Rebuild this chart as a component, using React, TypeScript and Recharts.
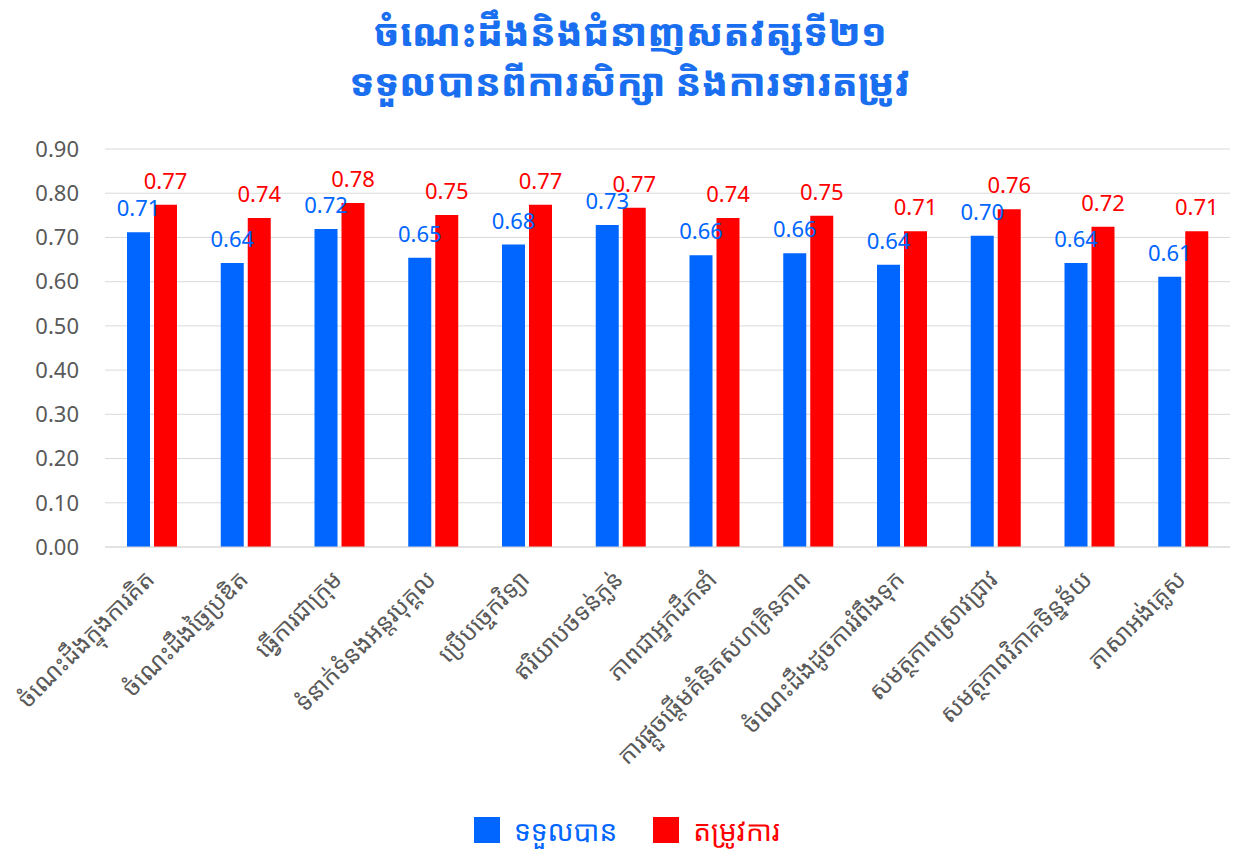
import React from "react";
import {
  Bar,
  BarChart,
  CartesianGrid,
  LabelList,
  Legend,
  XAxis,
  YAxis,
} from "recharts";

const skills = [
  "ចំណេះដឹងក្នុងការគិត",
  "ចំណេះដឹងច្នៃប្រឌិត",
  "ធ្វើការជាក្រុម",
  "ទំនាក់ទំនងអន្តរបុគ្គល",
  "ប្រើបច្ចេកវិទ្យា",
  "ឥរិយាបថទន់ភ្លន់",
  "ភាពជាអ្នកដឹកនាំ",
  "ការផ្តួចផ្តើមគំនិតសហគ្រិនភាព",
  "ចំណេះដឹងដូចការរំពឹងទុក",
  "សមត្ថភាពស្រាវជ្រាវ",
  "សមត្ថភាពវិភាគទិន្នន័យ",
  "ភាសាអង់គ្លេស",
];

const obtained = [0.712, 0.642, 0.719, 0.654, 0.684, 0.728, 0.66, 0.664, 0.638, 0.704, 0.642, 0.611];
const required = [0.774, 0.744, 0.778, 0.751, 0.774, 0.767, 0.744, 0.749, 0.714, 0.764, 0.724, 0.714];

const yTicks = [0, 0.1, 0.2, 0.3, 0.4, 0.5, 0.6, 0.7, 0.8, 0.9];

const titleLines = ["ចំណេះដឹងនិងជំនាញសតវត្សទី២១", "ទទួលបានពីការសិក្សា និងការទារតម្រូវ"];
const seriesNames = ["ទទួលបាន", "តម្រូវការ"];

const BLUE = "#0066ff";
const RED = "#ff0000";
const FONT = "'Noto Sans Khmer', 'Khmer OS', 'Noto Sans', sans-serif";

const data = skills.map((s, i) => ({
  skill: s,
  obtained: obtained[i],
  required: required[i],
}));

const fmt = (v: any) => Number(v).toFixed(2);

const AngledTick = (props: any) => {
  const { x, y, payload } = props;
  return (
    <g transform={`translate(${x + 4},${y + 26})`}>
      <text
        textAnchor="end"
        transform="rotate(-45)"
        fill="#595959"
        fontSize={24}
        fontFamily={FONT}
      >
        {payload.value}
      </text>
    </g>
  );
};

const LegendBox = () => (
  <div
    style={{
      display: "flex",
      justifyContent: "center",
      alignItems: "center",
      gap: 36,
      fontFamily: FONT,
      fontSize: 28,
      paddingLeft: 24,
    }}
  >
    {[BLUE, RED].map((c, i) => (
      <div key={i} style={{ display: "flex", alignItems: "center", gap: 14 }}>
        <span style={{ width: 26, height: 26, background: c, display: "inline-block" }} />
        <span style={{ color: c }}>{seriesNames[i]}</span>
      </div>
    ))}
  </div>
);

export default function App() {
  return (
    <div
      style={{
        position: "relative",
        width: 1243,
        height: 849,
        background: "#fff",
        overflow: "hidden",
      }}
    >
      <style>{"body{margin:0}"}</style>
      <div
        style={{
          position: "absolute",
          top: 6,
          left: 0,
          width: 1260,
          textAlign: "center",
          color: "#1a6ff0",
          fontWeight: 800,
          fontSize: 38,
          lineHeight: "50px",
          fontFamily: FONT,
        }}
      >
        {titleLines.map((t, i) => (
          <div key={i}>{t}</div>
        ))}
      </div>
      <div style={{ position: "absolute", top: 110, left: 0 }}>
        <BarChart
          width={1243}
          height={739}
          data={data}
          margin={{ top: 39, right: 13, bottom: 0, left: 0 }}
          barSize={23}
          barGap={4}
        >
          <CartesianGrid vertical={false} stroke="#d9d9d9" />
          <XAxis
            dataKey="skill"
            interval={0}
            height={264}
            tick={<AngledTick />}
            tickLine={false}
            axisLine={{ stroke: "#d9d9d9" }}
          />
          <YAxis
            domain={[0, 0.9]}
            ticks={yTicks}
            width={105}
            tickFormatter={fmt}
            tickLine={false}
            axisLine={false}
            tickMargin={20}
            tick={{ fill: "#595959", fontSize: 22, fontFamily: "'Noto Sans', sans-serif" }}
          />
          <Legend verticalAlign="bottom" height={38} content={<LegendBox />} />
          <Bar dataKey="obtained" name={seriesNames[0]} fill={BLUE} isAnimationActive={false}>
            <LabelList
              dataKey="obtained"
              position="top"
              offset={16}
              formatter={fmt}
              fill={BLUE}
              fontSize={22}
              fontFamily="'Noto Sans', sans-serif"
            />
          </Bar>
          <Bar dataKey="required" name={seriesNames[1]} fill={RED} isAnimationActive={false}>
            <LabelList
              dataKey="required"
              position="top"
              offset={16}
              formatter={fmt}
              fill={RED}
              fontSize={22}
              fontFamily="'Noto Sans', sans-serif"
            />
          </Bar>
        </BarChart>
      </div>
    </div>
  );
}
